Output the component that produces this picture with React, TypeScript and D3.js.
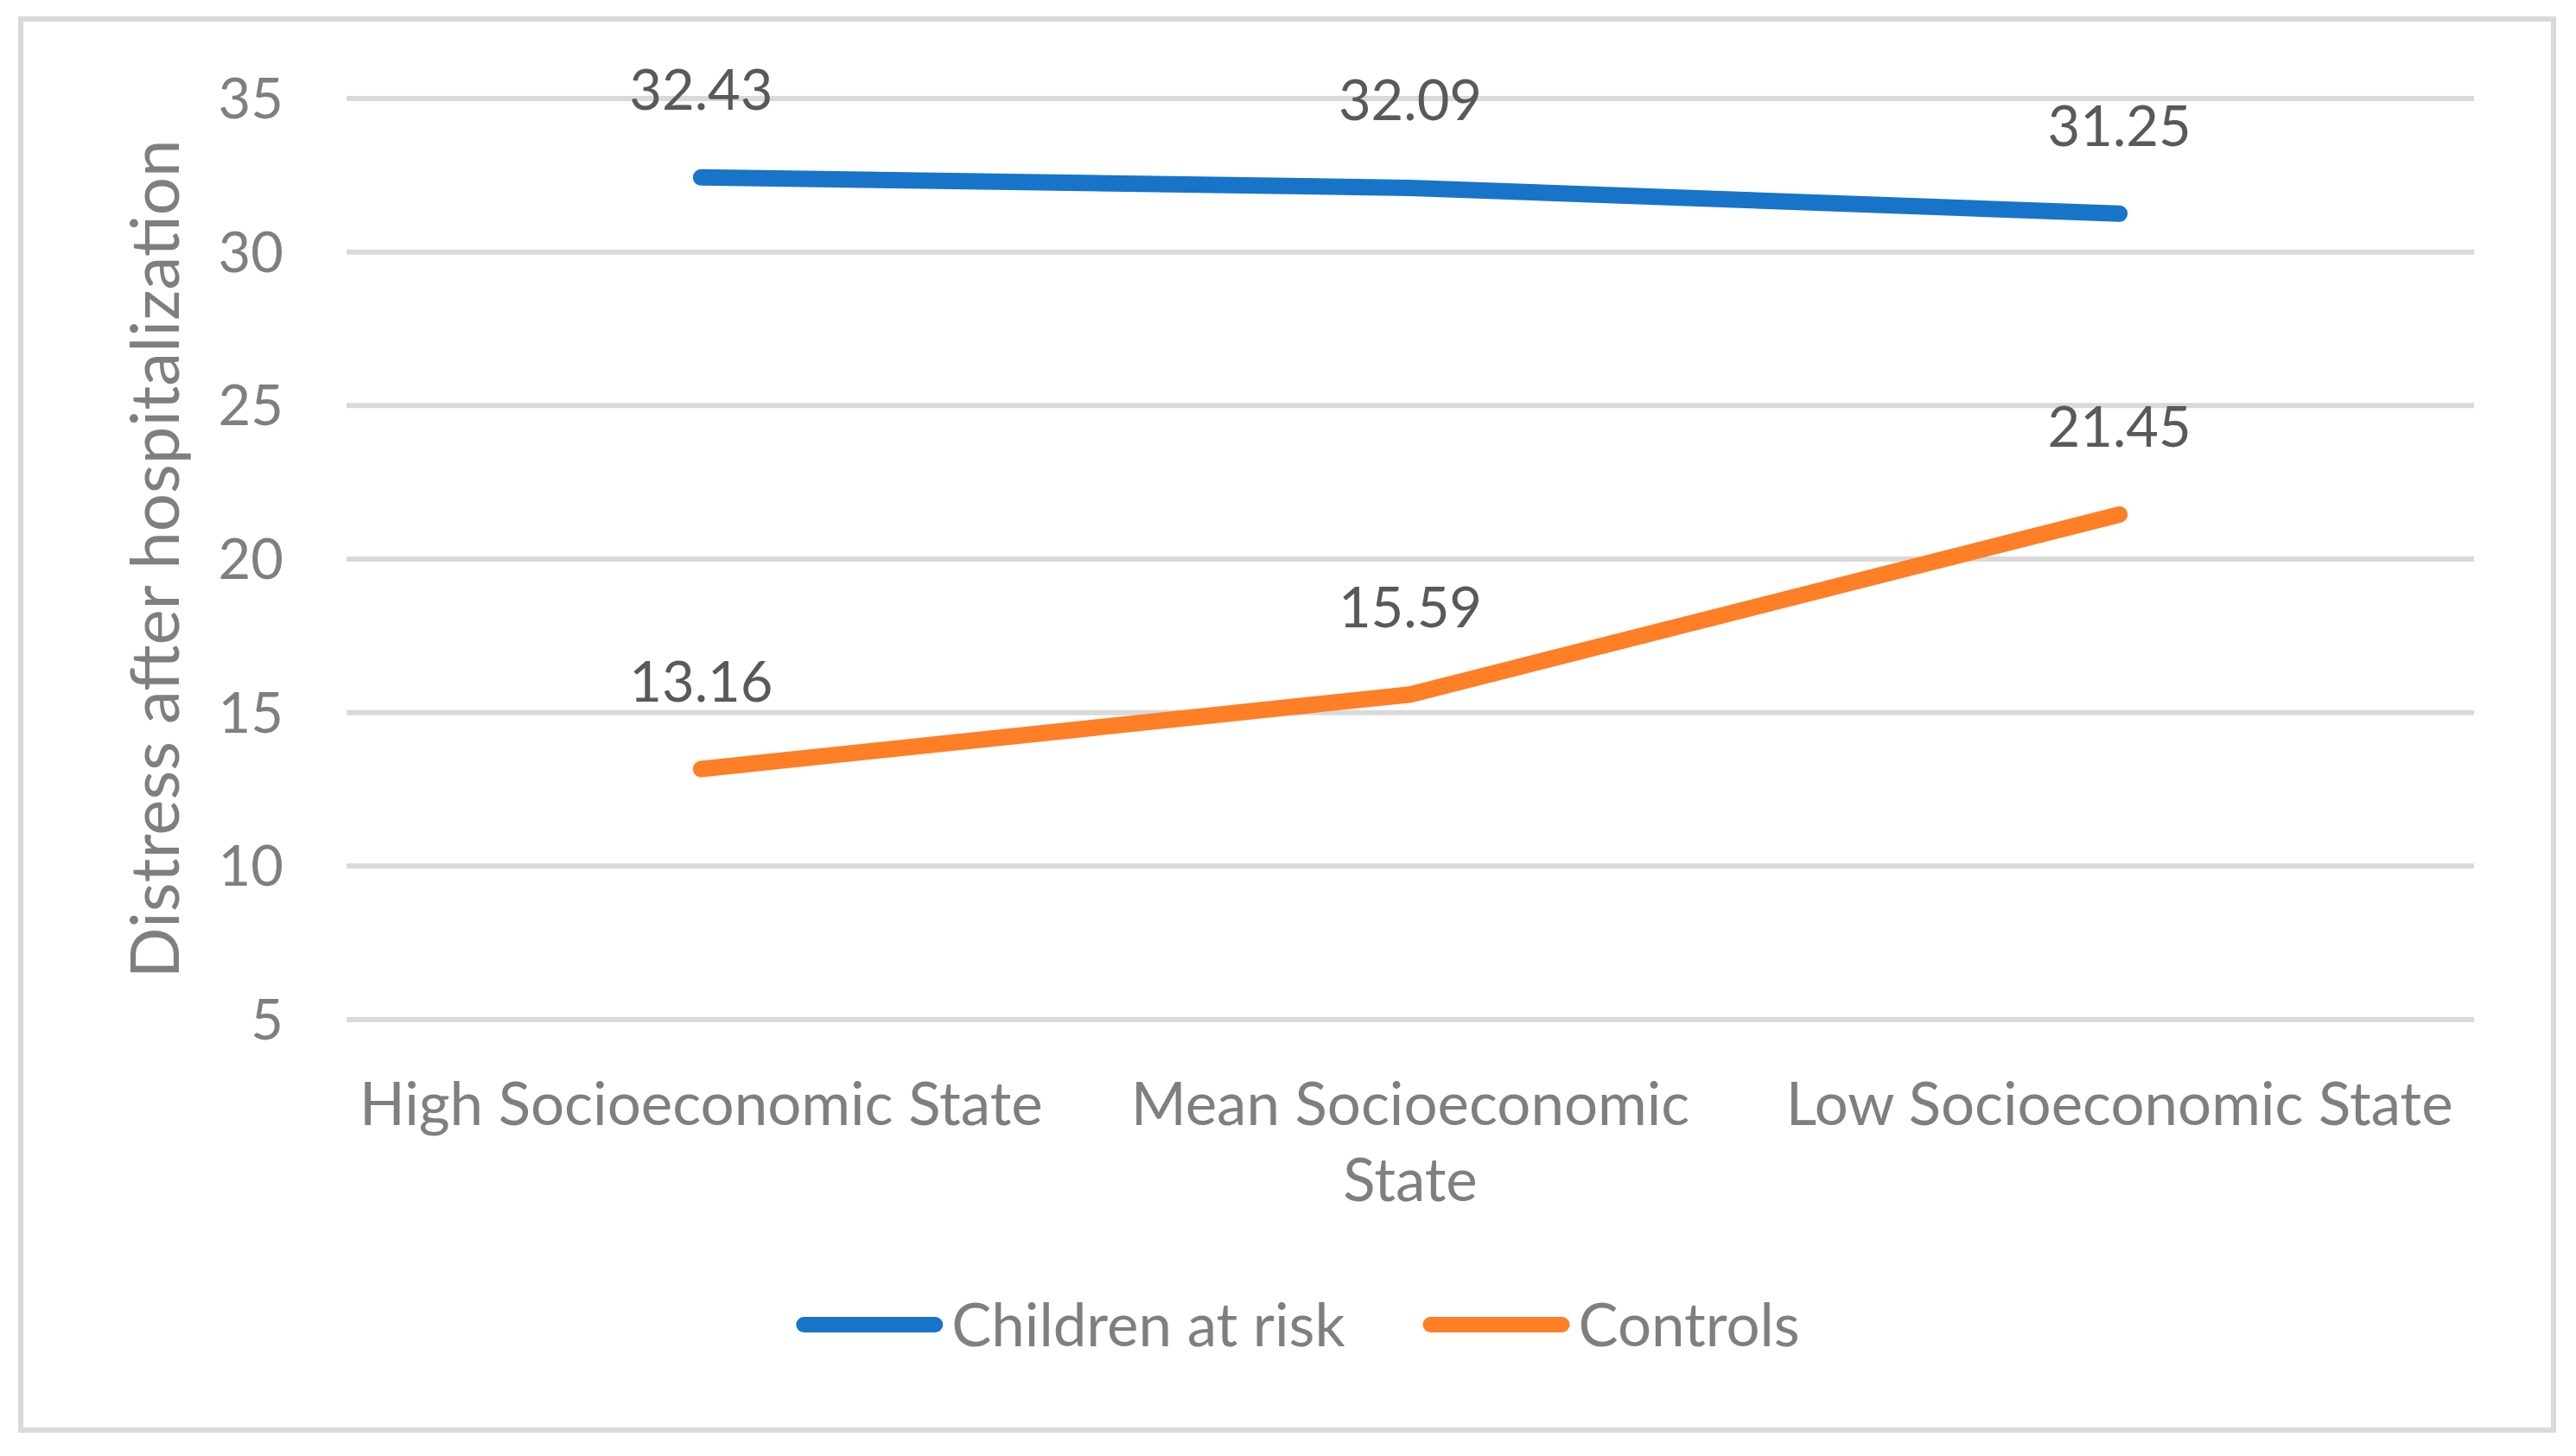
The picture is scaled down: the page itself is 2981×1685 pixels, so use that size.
import React, { useEffect, useRef } from "react";
import * as d3 from "d3";

const categories = ["High Socioeconomic State", "Mean Socioeconomic State", "Low Socioeconomic State"];
const categoryLines = [["High Socioeconomic State"], ["Mean Socioeconomic", "State"], ["Low Socioeconomic State"]];
const seriesNames = ["Children at risk", "Controls"];
const childrenAtRisk = [32.43, 32.09, 31.25];
const controls = [13.16, 15.59, 21.45];
const seriesColors = ["#1874C9", "#FE7F26"];
const yTicks = [5, 10, 15, 20, 25, 30, 35];
const yAxisTitle = "Distress after hospitalization";

const W = 2981;
const H = 1685;
const FONT = "Lato, 'Open Sans', sans-serif";

export default function App() {
  const ref = useRef<SVGSVGElement | null>(null);

  useEffect(() => {
    document.body.style.margin = "0";
    const svg = d3.select(ref.current);
    svg.selectAll("*").remove();

    // frame
    svg.append("rect").attr("x", 0).attr("y", 0).attr("width", W).attr("height", H).attr("fill", "#ffffff");
    svg.append("rect")
      .attr("x", 24).attr("y", 22).attr("width", 2931).attr("height", 1633)
      .attr("fill", "#ffffff").attr("stroke", "#D9D9D9").attr("stroke-width", 6);

    const left = 401, right = 2863, top = 114, bottom = 1180;
    const x = d3.scalePoint<string>().domain(categories).range([left, right]).padding(0.5);
    const y = d3.scaleLinear().domain([5, 35]).range([bottom, top]);

    // gridlines
    svg.append("g").selectAll("line").data(yTicks).join("line")
      .attr("x1", left).attr("x2", right)
      .attr("y1", (d) => y(d)).attr("y2", (d) => y(d))
      .attr("stroke", "#D9D9D9").attr("stroke-width", 6);

    // y tick labels
    svg.append("g").selectAll("text").data(yTicks).join("text")
      .attr("x", 328).attr("y", (d) => y(d) + 23)
      .attr("text-anchor", "end")
      .attr("font-family", FONT).attr("font-size", 65).attr("fill", "#7F7F7F")
      .text((d) => String(d));

    // y axis title
    svg.append("text")
      .attr("transform", `translate(207,${(top + bottom) / 2}) rotate(-90)`)
      .attr("text-anchor", "middle")
      .attr("font-family", FONT).attr("font-size", 78).attr("fill", "#7F7F7F")
      .text(yAxisTitle);

    // x labels
    const xl = svg.append("g");
    categories.forEach((c, i) => {
      const t = xl.append("text")
        .attr("text-anchor", "middle")
        .attr("font-family", FONT).attr("font-size", 69).attr("fill", "#7F7F7F");
      categoryLines[i].forEach((line, j) => {
        t.append("tspan").attr("x", x(c)!).attr("y", 1302 + j * 88).text(line);
      });
    });

    // lines
    const allSeries = [childrenAtRisk, controls];
    const line = d3.line<number>()
      .x((_, i) => x(categories[i])!)
      .y((d) => y(d));
    allSeries.forEach((vals, s) => {
      svg.append("path")
        .attr("d", line(vals)!)
        .attr("fill", "none")
        .attr("stroke", seriesColors[s])
        .attr("stroke-width", 19)
        .attr("stroke-linecap", "round")
        .attr("stroke-linejoin", "round");
    });

    // data labels
    allSeries.forEach((vals) => {
      svg.append("g").selectAll("text").data(vals).join("text")
        .attr("x", (_, i) => x(categories[i])!)
        .attr("y", (d) => y(d) - 78)
        .attr("text-anchor", "middle")
        .attr("font-family", FONT).attr("font-size", 65).attr("fill", "#595959")
        .text((d) => d.toFixed(2));
    });

    // legend
    const legendY = 1533;
    const symW = 152; // between cap centres
    const capR = 9;
    const gapText = 10;
    const itemGap = 90;
    const lg = svg.append("g");
    const widths: number[] = [];
    const texts = seriesNames.map((name) => {
      const t = lg.append("text")
        .attr("font-family", FONT).attr("font-size", 69).attr("fill", "#7F7F7F")
        .attr("y", legendY + 25)
        .text(name);
      widths.push((t.node() as SVGTextElement).getComputedTextLength());
      return t;
    });
    const itemW = widths.map((w) => symW + 2 * capR + gapText + w);
    const total = d3.sum(itemW) + itemGap * (seriesNames.length - 1);
    let cx = 1502 - total / 2;
    seriesNames.forEach((_, i) => {
      lg.append("line")
        .attr("x1", cx + capR).attr("x2", cx + capR + symW)
        .attr("y1", legendY).attr("y2", legendY)
        .attr("stroke", seriesColors[i]).attr("stroke-width", 18)
        .attr("stroke-linecap", "round");
      texts[i].attr("x", cx + symW + 2 * capR + gapText);
      cx += itemW[i] + itemGap;
    });
  }, []);

  return <svg ref={ref} width={W} height={H} style={{ display: "block" }} />;
}
